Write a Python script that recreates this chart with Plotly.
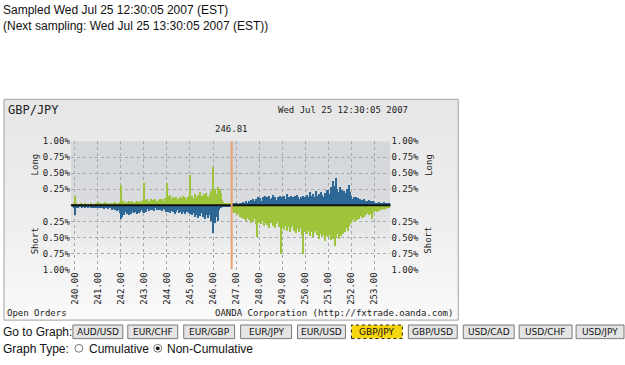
import base64
import plotly.graph_objects as go

W, H = 625, 365

# ---------------- data ----------------
pair_name = "GBP/JPY"
sample_time = "Wed Jul 25 12:30:05 2007"
next_time = "Wed Jul 25 13:30:05 2007"
current_price = 246.81
price_start = 239.85
price_step = 0.05

x_tick_vals = [240, 241, 242, 243, 244, 245, 246, 247, 248, 249, 250, 251, 252, 253]
x_tick_text = ["240.00", "241.00", "242.00", "243.00", "244.00", "245.00", "246.00",
               "247.00", "248.00", "249.00", "250.00", "251.00", "252.00", "253.00"]
y_tick_vals = [-1, -0.75, -0.5, -0.25, 0.25, 0.5, 0.75, 1]
y_tick_text = ["1.00%", "0.75%", "0.50%", "0.25%", "0.25%", "0.50%", "0.75%", "1.00%"]

# long orders (% of open orders), one value per 0.05 price bucket from 239.85
long_pct = [
    0.00, 0.02, 0.03,
    0.15, 0.04, 0.02, 0.01, 0.02, 0.03, 0.02, 0.01, 0.02, 0.03, 0.02, 0.02, 0.01, 0.02, 0.03, 0.02, 0.01, 0.02, 0.03, 0.02,
    0.05, 0.03, 0.02, 0.04, 0.02, 0.03, 0.05, 0.02, 0.03, 0.04, 0.02, 0.03, 0.02, 0.04, 0.03, 0.05, 0.03, 0.02, 0.04, 0.05,
    0.31, 0.06, 0.04, 0.07, 0.03, 0.05, 0.04, 0.06, 0.03, 0.05, 0.07, 0.04, 0.05, 0.03, 0.06, 0.05, 0.04, 0.07, 0.05, 0.08,
    0.34, 0.08, 0.05, 0.09, 0.06, 0.07, 0.10, 0.05, 0.08, 0.06, 0.09, 0.07, 0.05, 0.08, 0.10, 0.06, 0.09, 0.07, 0.11, 0.08,
    0.34, 0.14, 0.10, 0.16, 0.09, 0.12, 0.08, 0.11, 0.13, 0.09, 0.10, 0.12, 0.08, 0.11, 0.14, 0.10, 0.12, 0.09, 0.13, 0.15,
    0.47, 0.12, 0.15, 0.10, 0.18, 0.13, 0.11, 0.16, 0.12, 0.20, 0.14, 0.11, 0.17, 0.13, 0.19, 0.15, 0.12, 0.18, 0.22, 0.16,
    0.59, 0.22, 0.26, 0.18, 0.28, 0.21, 0.25, 0.19, 0.08, 0.05, 0.04, 0.03, 0.04, 0.02, 0.03, 0.02, 0.03, 0.03, 0.02, 0.03,
    0.02, 0.03, 0.02, 0.04, 0.02, 0.03, 0.05, 0.03, 0.04, 0.06, 0.04, 0.07, 0.05, 0.08, 0.06, 0.09, 0.07, 0.10, 0.08, 0.12,
    0.08, 0.11, 0.07, 0.13, 0.09, 0.15, 0.10, 0.12, 0.08, 0.14, 0.09, 0.11, 0.16, 0.10, 0.13, 0.08, 0.12, 0.10, 0.15, 0.11,
    0.12, 0.09, 0.14, 0.10, 0.17, 0.11, 0.13, 0.09, 0.15, 0.12, 0.10, 0.14, 0.11, 0.16, 0.12, 0.09, 0.13, 0.11, 0.15, 0.10,
    0.13, 0.10, 0.16, 0.12, 0.20, 0.14, 0.11, 0.17, 0.13, 0.22, 0.15, 0.12, 0.18, 0.14, 0.20, 0.16, 0.13, 0.19, 0.15, 0.24,
    0.24, 0.18, 0.28, 0.20, 0.37, 0.22, 0.30, 0.42, 0.26, 0.20, 0.28, 0.18, 0.24, 0.16, 0.22, 0.19, 0.25, 0.17, 0.32, 0.20,
    0.14, 0.10, 0.13, 0.08, 0.12, 0.09, 0.11, 0.07, 0.10, 0.08, 0.06, 0.09, 0.05, 0.07, 0.06, 0.08, 0.05, 0.06, 0.04, 0.06,
    0.05, 0.03, 0.04, 0.03, 0.05, 0.02, 0.04, 0.03, 0.05, 0.03, 0.04, 0.02, 0.03, 0.04, 0.03,
]

# short orders (% of open orders), same buckets
short_pct = [
    0.00, 0.03, 0.05,
    0.16, 0.05, 0.03, 0.04, 0.02, 0.03, 0.04, 0.02, 0.03, 0.05, 0.03, 0.04, 0.02, 0.03, 0.04, 0.05, 0.03, 0.04, 0.05, 0.03,
    0.04, 0.03, 0.05, 0.03, 0.04, 0.06, 0.03, 0.05, 0.04, 0.06, 0.05, 0.04, 0.07, 0.05, 0.06, 0.08, 0.05, 0.09, 0.07, 0.12,
    0.22, 0.18, 0.12, 0.15, 0.10, 0.14, 0.11, 0.16, 0.09, 0.13, 0.10, 0.12, 0.08, 0.11, 0.14, 0.09, 0.12, 0.10, 0.08, 0.11,
    0.12, 0.08, 0.10, 0.06, 0.09, 0.07, 0.05, 0.08, 0.06, 0.09, 0.05, 0.07, 0.06, 0.08, 0.05, 0.07, 0.09, 0.06, 0.08, 0.10,
    0.08, 0.10, 0.07, 0.12, 0.09, 0.11, 0.08, 0.13, 0.10, 0.07, 0.12, 0.09, 0.11, 0.14, 0.10, 0.08, 0.13, 0.11, 0.09, 0.12,
    0.14, 0.10, 0.16, 0.12, 0.18, 0.11, 0.15, 0.20, 0.13, 0.17, 0.12, 0.19, 0.14, 0.22, 0.16, 0.13, 0.20, 0.15, 0.25, 0.18,
    0.43, 0.20, 0.28, 0.18, 0.24, 0.08, 0.05, 0.04, 0.03, 0.02, 0.03, 0.02, 0.02, 0.01, 0.02, 0.01, 0.02, 0.10, 0.12, 0.09,
    0.12, 0.15, 0.13, 0.18, 0.14, 0.20, 0.16, 0.22, 0.18, 0.25, 0.20, 0.23, 0.19, 0.27, 0.22, 0.25, 0.21, 0.30, 0.50, 0.26,
    0.28, 0.22, 0.30, 0.25, 0.33, 0.27, 0.24, 0.31, 0.26, 0.35, 0.28, 0.25, 0.32, 0.27, 0.36, 0.29, 0.26, 0.34, 0.30, 0.76,
    0.35, 0.30, 0.38, 0.32, 0.40, 0.34, 0.31, 0.42, 0.36, 0.33, 0.40, 0.35, 0.44, 0.37, 0.32, 0.41, 0.36, 0.46, 0.76, 0.40,
    0.42, 0.38, 0.45, 0.40, 0.48, 0.42, 0.37, 0.50, 0.44, 0.40, 0.47, 0.43, 0.52, 0.45, 0.41, 0.50, 0.46, 0.55, 0.48, 0.44,
    0.50, 0.46, 0.54, 0.48, 0.52, 0.47, 0.64, 0.50, 0.45, 0.52, 0.44, 0.48, 0.40, 0.45, 0.38, 0.42, 0.35, 0.40, 0.33, 0.30,
    0.28, 0.25, 0.22, 0.26, 0.20, 0.23, 0.18, 0.21, 0.17, 0.20, 0.15, 0.18, 0.14, 0.16, 0.12, 0.15, 0.11, 0.13, 0.21, 0.12,
    0.10, 0.09, 0.10, 0.08, 0.09, 0.07, 0.08, 0.06, 0.07, 0.05, 0.06, 0.05, 0.04, 0.05, 0.03,
]

graph_pairs = ["AUD/USD", "EUR/CHF", "EUR/GBP", "EUR/JPY", "EUR/USD",
               "GBP/JPY", "GBP/USD", "USD/CAD", "USD/CHF", "USD/JPY"]
graph_types = ["Cumulative", "Non-Cumulative"]
selected_type = "Non-Cumulative"

# ---------------- styling ----------------
GREEN = "#9dc43a"
BLUE = "#2d6795"
MONO = "DejaVu Sans Mono"
SANS = "Liberation Sans"

prices = [round(price_start + i * price_step, 2) for i in range(len(long_pct))]
long_colors = [GREEN if p < current_price else BLUE for p in prices]
short_colors = [BLUE if p < current_price else GREEN for p in prices]


def px(x):
    return x / W


def py(y):
    return 1 - y / H


PLOT_L, PLOT_R, PLOT_T, PLOT_B = 70, 390, 140, 272
X_RANGE = [239.83, 253.70]


def grad_uri(stops):
    st = "".join(f'<stop offset="{o}" stop-color="{c}"/>' for o, c in stops)
    svg = ('<svg xmlns="http://www.w3.org/2000/svg" width="100" height="100" preserveAspectRatio="none">'
           f'<defs><linearGradient id="g" x1="0" y1="0" x2="0" y2="1">{st}</linearGradient></defs>'
           '<rect width="100" height="100" fill="url(#g)"/></svg>')
    return "data:image/svg+xml;base64," + base64.b64encode(svg.encode()).decode()


fig = go.Figure()
fig.add_trace(go.Bar(x=prices, y=long_pct, marker=dict(color=long_colors, line=dict(width=0)),
                     width=price_step, hoverinfo="skip", showlegend=False))
fig.add_trace(go.Bar(x=prices, y=[-v for v in short_pct], marker=dict(color=short_colors, line=dict(width=0)),
                     width=price_step, hoverinfo="skip", showlegend=False))
fig.add_trace(go.Scatter(x=[current_price], y=[0], yaxis="y2", mode="markers",
                         marker=dict(size=0.1, color="rgba(0,0,0,0)"), hoverinfo="skip", showlegend=False))

tickfont = dict(family=MONO, size=9, color="#222")
fig.update_layout(
    width=W, height=H, autosize=False,
    margin=dict(l=0, r=0, t=0, b=0),
    paper_bgcolor="white", plot_bgcolor="rgba(0,0,0,0)",
    barmode="overlay", bargap=0,
    xaxis=dict(domain=[px(PLOT_L), px(PLOT_R)], range=X_RANGE, tickvals=x_tick_vals, ticktext=x_tick_text,
               tickangle=-90, tickfont=tickfont, showgrid=True, gridcolor="#a8a8a8", griddash="dot",
               gridwidth=1, zeroline=False, showline=False, ticks="", fixedrange=True),
    yaxis=dict(domain=[py(PLOT_B), py(PLOT_T)], range=[-1, 1], tickvals=y_tick_vals, ticktext=y_tick_text,
               tickfont=tickfont, showgrid=True, gridcolor="#a8a8a8", griddash="dot", gridwidth=1,
               zeroline=False, showline=False, ticks="", fixedrange=True),
    yaxis2=dict(overlaying="y", side="right", range=[-1, 1], tickvals=y_tick_vals, ticktext=y_tick_text,
                tickfont=tickfont, showgrid=False, zeroline=False, showline=False, ticks="", fixedrange=True),
)

images = [
    dict(source=grad_uri([(0, "#e6e6e6"), (0.6, "#efefef"), (1, "#fafafa")]), xref="paper", yref="paper",
         x=px(3), y=py(97), sizex=px(455), sizey=227 / H, sizing="stretch", xanchor="left", yanchor="top",
         layer="below"),
    dict(source=grad_uri([(0, "#d3d6da"), (0.45, "#d9dbde"), (0.75, "#e8e9ea"), (1, "#f8f8f8")]),
         xref="paper", yref="paper", x=px(PLOT_L), y=py(PLOT_T), sizex=px(PLOT_R - PLOT_L),
         sizey=(PLOT_B - PLOT_T) / H, sizing="stretch", xanchor="left", yanchor="top", layer="below"),
]
fig.update_layout(images=images)

shapes = [
    dict(type="rect", xref="paper", yref="paper", x0=px(3), x1=px(458), y0=py(324), y1=py(97),
         line=dict(color="#a0a0a0", width=1), fillcolor="rgba(0,0,0,0)", layer="below"),
    dict(type="line", xref="paper", yref="y", x0=px(PLOT_L), x1=px(PLOT_R), y0=0, y1=0,
         line=dict(color="#111", width=2), layer="above"),
    dict(type="line", xref="x", yref="y", x0=current_price, x1=current_price, y0=-1, y1=1,
         line=dict(color="#e8a272", width=2), layer="above"),
]

annotations = []


def text(s, x, y, size=12, family=SANS, anchor="left", color="#111", angle=0, xref="paper", yanchor="middle"):
    annotations.append(dict(text=s, x=x if xref != "paper" else px(x), y=py(y), xref=xref, yref="paper",
                            xanchor=anchor, yanchor=yanchor, showarrow=False, textangle=angle, align="left",
                            borderpad=0, font=dict(family=family, size=size, color=color)))


text(f"Sampled {sample_time} (EST)<br>(Next sampling: {next_time} (EST))", 1, -3.5, yanchor="top")
text(pair_name, 6, 108, size=12, family=MONO, color="#222")
text(sample_time, 409, 108, size=9, family=MONO, anchor="right", color="#222")
text(f"{current_price:.2f}", current_price, 128, size=9, family=MONO, anchor="center", color="#222", xref="x")
for xx in (34, 428):
    text("Long", xx, 164, size=9, family=MONO, anchor="center", color="#222", angle=-90)
    text("Short", xx, 242, size=9, family=MONO, anchor="center", color="#222", angle=-90)
text("Open Orders", 5, 317, size=9, family=MONO, color="#222")
text("OANDA Corporation (http://fxtrade.oanda.com)", 454, 317, size=9, family=MONO, anchor="right", color="#222")

# navigation buttons
text("Go to Graph:", 1, 336)
btn_x = [(72, 122), (127, 177), (183, 234), (240, 291), (297, 345),
         (351, 402), (408, 457), (463, 514), (519, 572), (576, 624)]
for name, (x0, x1) in zip(graph_pairs, btn_x):
    sel = name == pair_name
    shapes.append(dict(type="rect", xref="paper", yref="paper", x0=px(x0), x1=px(x1), y0=py(343), y1=py(329),
                       fillcolor="#f5d50f" if sel else "#e4e4e4",
                       line=dict(color="#222" if sel else "#7a7a7a", width=1, dash="dot" if sel else "solid")))
    text(name, (x0 + x1) / 2, 336, size=9, family="DejaVu Sans", anchor="center", color="#111")

# graph type radios
text("Graph Type:", 1, 354)
radio_pos = [(78, 87), (157, 165)]
for label, (cx, tx) in zip(graph_types, radio_pos):
    shapes.append(dict(type="circle", xref="paper", yref="paper", x0=px(cx - 4), x1=px(cx + 4),
                       y0=py(357), y1=py(349), fillcolor="white", line=dict(color="#777", width=1)))
    if label == selected_type:
        shapes.append(dict(type="circle", xref="paper", yref="paper", x0=px(cx - 2), x1=px(cx + 2),
                           y0=py(355), y1=py(351), fillcolor="#111", line=dict(color="#111", width=0)))
    text(label, tx, 354)

fig.update_layout(shapes=shapes, annotations=annotations)
fig.write_html("out.html")
